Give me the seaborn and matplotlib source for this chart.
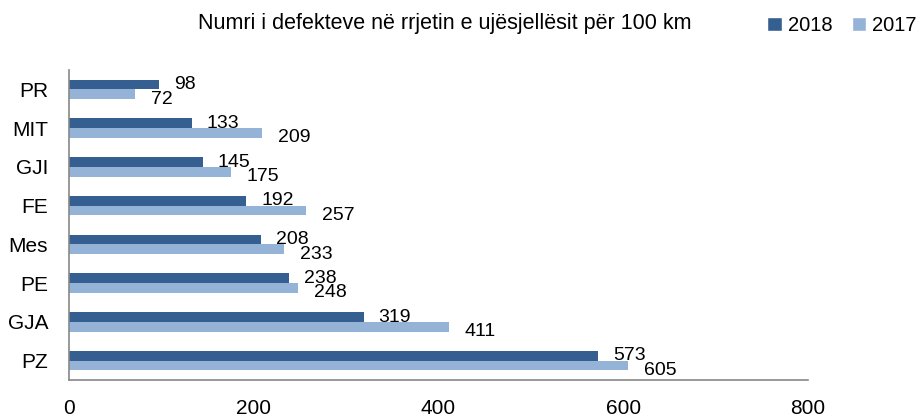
import matplotlib
matplotlib.use("Agg")
import matplotlib.pyplot as plt
import seaborn as sns
import pandas as pd
from matplotlib.patches import Patch

sns.set_style("white")
plt.rcParams["font.family"] = ["Liberation Sans Narrow", "Liberation Sans", "DejaVu Sans"]
plt.rcParams["text.color"] = "black"
plt.rcParams["xtick.labelcolor"] = "black"
plt.rcParams["ytick.labelcolor"] = "black"

# Data
categories = ["PR", "MIT", "GJI", "FE", "Mes", "PE", "GJA", "PZ"]
values_2018 = [98, 133, 145, 192, 208, 238, 319, 573]
values_2017 = [72, 209, 175, 257, 233, 248, 411, 605]
years = ["2018", "2017"]
colors = {"2018": "#365F91", "2017": "#95B3D7"}

df = pd.DataFrame({
    "Kategoria": categories * 2,
    "Viti": ["2018"] * len(categories) + ["2017"] * len(categories),
    "Vlera": values_2018 + values_2017,
})

fig = plt.figure(figsize=(9.19, 4.19), dpi=100)
ax = fig.add_axes([0.075, 0.093, 0.804, 0.74])

sns.barplot(data=df, y="Kategoria", x="Vlera", hue="Viti", hue_order=years,
            order=categories, palette=colors, orient="h", width=0.5,
            saturation=1, legend=False, linewidth=0, ax=ax)

# value labels, Excel-style offsets
offsets = {"2018": (15, 0), "2017": (16, -5)}
for container, year in zip(ax.containers, years):
    for bar in container:
        w = bar.get_width()
        y = bar.get_y() + bar.get_height() / 2
        ax.annotate(f"{w:.0f}", (w, y), xytext=offsets[year], textcoords="offset pixels",
                    ha="left", va="center", fontsize=14)

ax.set_xlim(0, 800)
ax.set_ylim(len(categories) - 0.5, -0.5)
ax.set_xticks([0, 200, 400, 600, 800])
ax.set_xlabel("")
ax.set_ylabel("")
ax.tick_params(axis="x", length=0, pad=14, labelsize=15)
ax.tick_params(axis="y", which="major", length=0, pad=15, labelsize=15)
ax.set_yticks([i - 0.5 for i in range(len(categories) + 1)], minor=True)
ax.tick_params(axis="y", which="minor", length=6, width=1.2, color="#888888", direction="out")

for side in ["top", "right"]:
    ax.spines[side].set_visible(False)
for side in ["left", "bottom"]:
    ax.spines[side].set_color("#888888")
    ax.spines[side].set_linewidth(1.2)

fig.text(0.484, 0.945, "Numri i defekteve në rrjetin e ujësjellësit për 100 km",
         ha="center", va="center", fontsize=15.5)

handles = [Patch(facecolor=colors[y], label=y) for y in years]
fig.legend(handles=handles, loc="center right", bbox_to_anchor=(1.0, 0.94), ncol=2,
           frameon=False, fontsize=14.5, handlelength=0.7, handleheight=0.7,
           handletextpad=0.3, columnspacing=1.0, borderaxespad=0.0, borderpad=0.1)

fig.savefig("out.png", dpi=100)
